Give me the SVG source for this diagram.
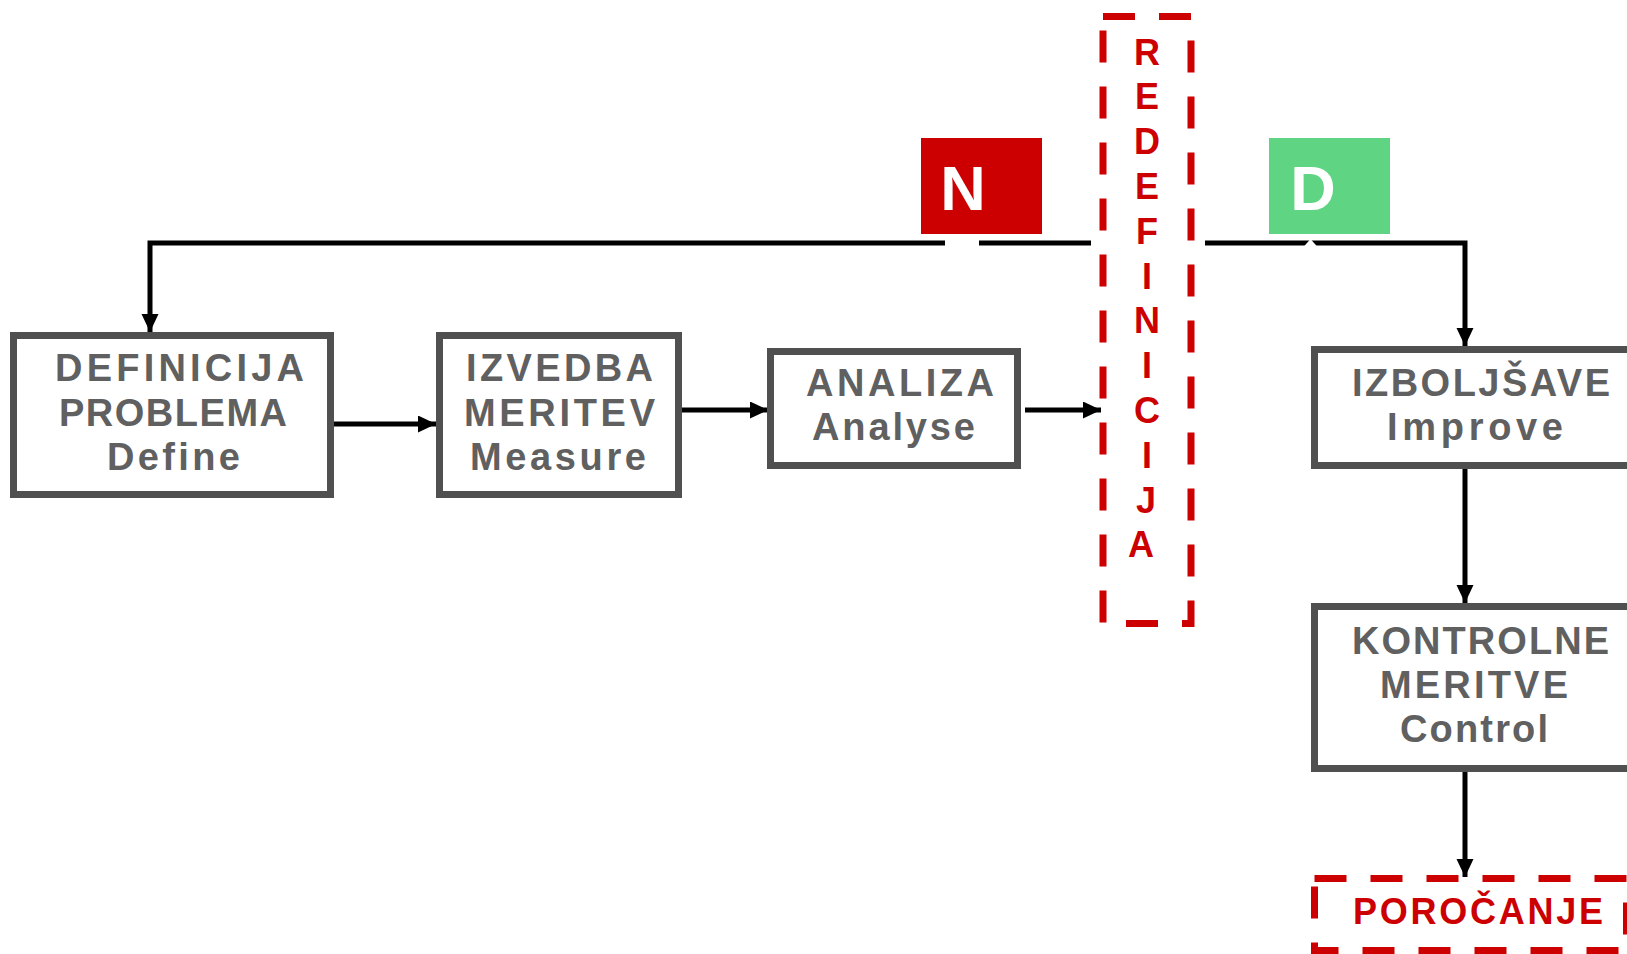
<svg xmlns="http://www.w3.org/2000/svg" width="1627" height="954" viewBox="0 0 1627 954">
<defs>
<marker id="arr" markerUnits="userSpaceOnUse" markerWidth="20" markerHeight="20" refX="18" refY="8.5" orient="auto" viewBox="0 0 20 20">
<path d="M0,0 L18,8.5 L0,17 z" fill="#000"/>
</marker>
<style>
.box{fill:#fff;stroke:#505050;stroke-width:7}
.bt{font-family:"Liberation Sans",Arial,sans-serif;font-weight:bold;font-size:38px;fill:#606060}
.con{fill:none;stroke:#000;stroke-width:5;marker-end:url(#arr)}
.seg{fill:none;stroke:#000;stroke-width:5}
.dash{fill:none;stroke:#cc0000;stroke-width:7;stroke-dasharray:32 24}
.rt{font-family:"Liberation Sans",Arial,sans-serif;font-weight:bold;font-size:36px;fill:#cc0000;text-anchor:middle}
.tag{font-family:"Liberation Sans",Arial,sans-serif;font-weight:bold;font-size:63px;fill:#fff;text-anchor:middle}
</style>
</defs>
<rect width="1627" height="954" fill="#fff"/>

<g id="connectors">
<path class="seg" d="M1091,243 H979"/>
<path class="con" d="M945,243 H150 V332"/>
<path class="con" d="M1205,243 H1465 V346"/>
<polygon points="1303,247.5 1310.5,239 1318,247.5" fill="#fff"/>
<path class="con" d="M334,424 H436"/>
<path class="con" d="M682,410 H768"/>
<path class="con" d="M1025,410 H1101"/>
<path class="con" d="M1465,469 V603"/>
<path class="con" d="M1465,772 V877"/>
</g>

<g id="tag-n">
<rect x="921" y="138" width="121" height="96" fill="#cc0000"/>
<text class="tag" x="963" y="210">N</text>
</g>
<g id="tag-d">
<rect x="1269" y="138" width="121" height="96" fill="#5fd583"/>
<text class="tag" x="1313" y="210">D</text>
</g>

<g id="node-define">
<rect class="box" x="13.5" y="335.5" width="317" height="159"/>
<text class="bt" x="55" y="381" textLength="249" lengthAdjust="spacing">DEFINICIJA</text>
<text class="bt" x="59" y="426" textLength="228" lengthAdjust="spacing">PROBLEMA</text>
<text class="bt" x="107" y="470" textLength="133" lengthAdjust="spacing">Define</text>
</g>

<g id="node-measure">
<rect class="box" x="439.5" y="335.5" width="239" height="159"/>
<text class="bt" x="466" y="381" textLength="187" lengthAdjust="spacing">IZVEDBA</text>
<text class="bt" x="464" y="426" textLength="191" lengthAdjust="spacing">MERITEV</text>
<text class="bt" x="470" y="470" textLength="176" lengthAdjust="spacing">Measure</text>
</g>

<g id="node-analyse">
<rect class="box" x="770.5" y="351.5" width="247" height="114"/>
<text class="bt" x="806" y="396" textLength="188" lengthAdjust="spacing">ANALIZA</text>
<text class="bt" x="812" y="440" textLength="163" lengthAdjust="spacing">Analyse</text>
</g>

<g id="node-redefinicija">
<rect class="dash" x="1103" y="16.5" width="88" height="607"/>
<text class="rt" x="1147" y="64.5">R</text>
<text class="rt" x="1147" y="109.3">E</text>
<text class="rt" x="1147" y="154.1">D</text>
<text class="rt" x="1147" y="198.9">E</text>
<text class="rt" x="1147" y="243.7">F</text>
<text class="rt" x="1147" y="288.5">I</text>
<text class="rt" x="1147" y="333.3">N</text>
<text class="rt" x="1147" y="378.1">I</text>
<text class="rt" x="1147" y="422.9">C</text>
<text class="rt" x="1147" y="467.7">I</text>
<text class="rt" x="1146" y="512.5">J</text>
<text class="rt" x="1141" y="557.3">A</text>
</g>

<g id="node-improve">
<rect class="box" x="1314.5" y="349.5" width="340" height="116"/>
<text class="bt" x="1352" y="396" textLength="258" lengthAdjust="spacing">IZBOLJŠAVE</text>
<text class="bt" x="1387" y="440" textLength="176" lengthAdjust="spacing">Improve</text>
</g>

<g id="node-control">
<rect class="box" x="1314.5" y="606.5" width="340" height="162"/>
<text class="bt" x="1352" y="654" textLength="257" lengthAdjust="spacing">KONTROLNE</text>
<text class="bt" x="1380" y="698" textLength="188" lengthAdjust="spacing">MERITVE</text>
<text class="bt" x="1400" y="742" textLength="148" lengthAdjust="spacing">Control</text>
</g>

<g id="node-porocanje">
<rect class="dash" x="1314.5" y="878.5" width="312" height="72"/>
<text class="rt" x="1478" y="924" textLength="250" lengthAdjust="spacing">POROČANJE</text>
</g>
</svg>
